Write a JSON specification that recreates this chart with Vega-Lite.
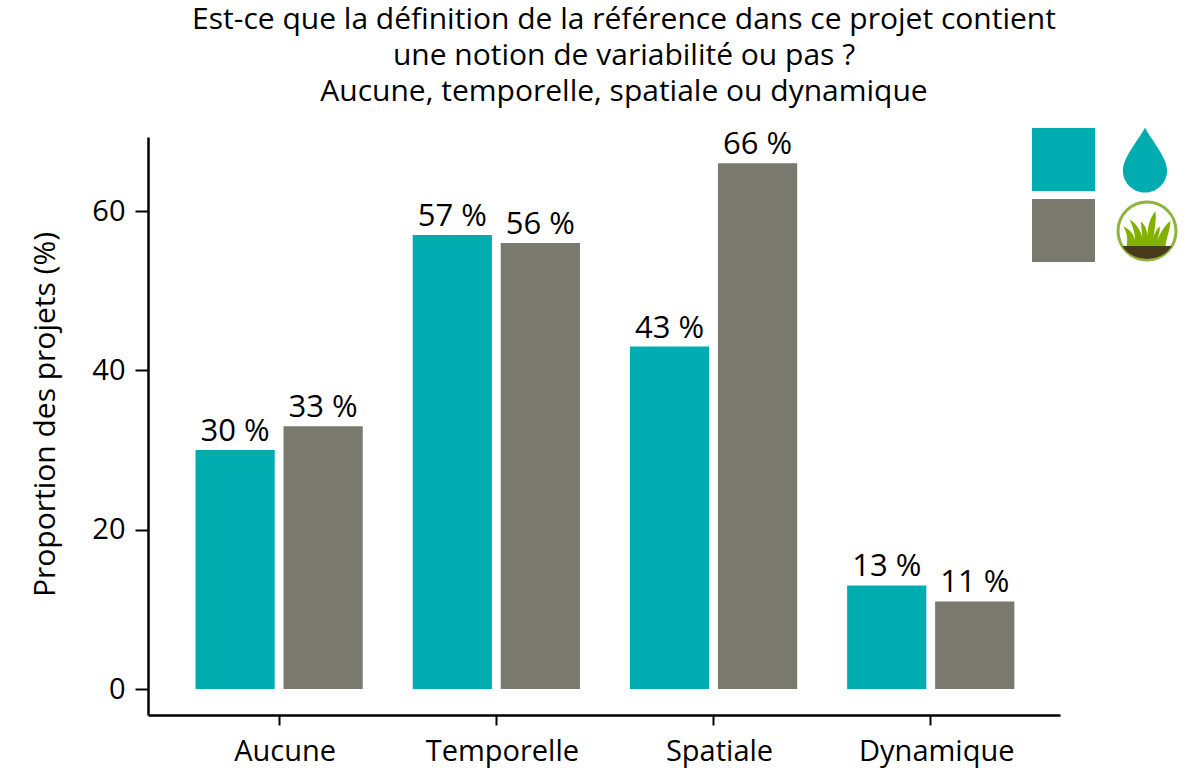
{
  "$schema": "https://vega.github.io/schema/vega-lite/v6.json",
  "width": 912,
  "height": 578,
  "autosize": {"type": "none"},
  "padding": {"left": 148, "top": 137, "right": 127, "bottom": 55},
  "background": "white",
  "config": {
    "font": "Open Sans",
    "view": {"stroke": null}
  },
  "title": {
    "text": [
      "Est-ce que la définition de la référence dans ce projet contient",
      "une notion de variabilité ou pas ?",
      "Aucune, temporelle, spatiale ou dynamique"
    ],
    "anchor": "middle",
    "frame": "group",
    "dx": 20,
    "offset": 21,
    "fontSize": 30,
    "lineHeight": 36,
    "fontWeight": "normal",
    "color": "#000000",
    "font": "Open Sans"
  },
  "resolve": {"scale": {"x": "independent"}},
  "layer": [
    {
      "data": {"name": "projets", "values": [
        {"variabilite": "Aucune", "milieu": "Eau", "proportion": 30, "etiquette": "30 %"},
        {"variabilite": "Aucune", "milieu": "Sol", "proportion": 33, "etiquette": "33 %"},
        {"variabilite": "Temporelle", "milieu": "Eau", "proportion": 57, "etiquette": "57 %"},
        {"variabilite": "Temporelle", "milieu": "Sol", "proportion": 56, "etiquette": "56 %"},
        {"variabilite": "Spatiale", "milieu": "Eau", "proportion": 43, "etiquette": "43 %"},
        {"variabilite": "Spatiale", "milieu": "Sol", "proportion": 66, "etiquette": "66 %"},
        {"variabilite": "Dynamique", "milieu": "Eau", "proportion": 13, "etiquette": "13 %"},
        {"variabilite": "Dynamique", "milieu": "Sol", "proportion": 11, "etiquette": "11 %"}
      ]},
      "encoding": {
        "x": {
          "field": "variabilite",
          "type": "nominal",
          "sort": ["Aucune", "Temporelle", "Spatiale", "Dynamique"],
          "title": null,
          "scale": {"paddingInner": 0.23, "paddingOuter": 0.2144, "align": 0.51},
          "axis": {
            "labelAngle": 0,
            "labelFontSize": 29,
            "labelColor": "#000000",
            "labelPadding": 12,
            "labelOffset": 6,
            "tickSize": 10,
            "tickWidth": 2,
            "tickColor": "#000000",
            "domainWidth": 2.5,
            "domainColor": "#000000",
            "grid": false
          }
        },
        "xOffset": {
          "field": "milieu",
          "type": "nominal",
          "scale": {"paddingInner": 0.1}
        },
        "y": {
          "field": "proportion",
          "type": "quantitative",
          "title": "Proportion des projets (%)",
          "scale": {"domain": [-3.26, 69.3], "nice": false},
          "axis": {
            "values": [0, 20, 40, 60],
            "labelFontSize": 29,
            "labelColor": "#000000",
            "labelPadding": 10,
            "titleFontSize": 30,
            "titleFontWeight": "normal",
            "titleColor": "#000000",
            "titlePadding": 31,
            "titleY": 277,
            "tickSize": 13,
            "tickWidth": 2,
            "tickColor": "#000000",
            "domainWidth": 2.5,
            "domainColor": "#000000",
            "grid": false
          }
        }
      },
      "layer": [
        {
          "mark": {"type": "bar", "y2": {"expr": "scale('y', 0) + 1"}},
          "encoding": {
            "color": {
              "field": "milieu",
              "type": "nominal",
              "scale": {"domain": ["Eau", "Sol"], "range": ["#00acaf", "#79796e"]},
              "legend": {
                "title": null,
                "orient": "none",
                "legendX": 884,
                "legendY": -9,
                "padding": 0,
                "symbolType": "square",
                "symbolSize": 3969,
                "symbolStrokeWidth": 0,
                "rowPadding": 8,
                "labelExpr": "''",
                "labelFontSize": 1
              }
            }
          }
        },
        {
          "mark": {"type": "text", "baseline": "bottom", "dy": -2, "fontSize": 31, "color": "#000000"},
          "encoding": {"text": {"field": "etiquette"}}
        }
      ]
    },
    {
      "data": {"values": [{"icone": "pictogrammes"}]},
      "encoding": {
        "x": {"datum": 1.0932, "type": "quantitative", "scale": {"domain": [0, 1]}, "axis": null},
        "y": {"datum": 50.3, "type": "quantitative"}
      },
      "layer": [
        {
          "mark": {
            "type": "point",
            "filled": true,
            "opacity": 1,
            "clip": false,
            "color": "#00acaf",
            "size": 4225,
            "shape": "M0,-1 C0.1,-0.75 0.68,-0.1 0.68,0.32 C0.68,0.7 0.37,1 0,1 C-0.37,1 -0.68,0.7 -0.68,0.32 C-0.68,-0.1 -0.1,-0.75 0,-1 Z"
          },
          "encoding": {"y": {"datum": 66.4, "type": "quantitative"}}
        },
        {
          "mark": {"type": "point", "filled": false, "opacity": 1, "color": "#8db43e", "strokeWidth": 3, "size": 3364, "shape": "circle"},
          "encoding": {"x": {"datum": 1.0954, "type": "quantitative", "scale": {"domain": [0, 1]}, "axis": null}, "y": {"datum": 57.5, "type": "quantitative"}}
        },
        {
          "mark": {
            "type": "point",
            "filled": true,
            "opacity": 1,
            "color": "#4a3a1c",
            "size": 3600,
            "shape": "M-0.82,0.5 L0.82,0.5 C0.65,0.8 0.3,0.93 0,0.93 C-0.3,0.93 -0.65,0.8 -0.82,0.5 Z"
          },
          "encoding": {"x": {"datum": 1.0954, "type": "quantitative", "scale": {"domain": [0, 1]}, "axis": null}, "y": {"datum": 57.5, "type": "quantitative"}}
        },
        {
          "mark": {
            "type": "point",
            "filled": true,
            "opacity": 1,
            "color": "#84b000",
            "size": 3600,
            "shape": "M-0.68,0.5 C-0.62,0.2 -0.7,0 -0.8,-0.16 C-0.55,-0.05 -0.45,0.1 -0.4,0.3 C-0.4,0.05 -0.5,-0.2 -0.58,-0.38 C-0.35,-0.25 -0.2,0 -0.15,0.25 C-0.17,0.05 -0.2,-0.15 -0.2,-0.32 C-0.05,-0.2 0,0 0.02,0.15 C0.02,-0.15 0.1,-0.45 0.28,-0.66 C0.32,-0.4 0.25,-0.05 0.22,0.2 C0.28,0 0.35,-0.1 0.42,-0.15 C0.45,-0.05 0.38,0.15 0.35,0.3 C0.45,0.05 0.6,-0.2 0.78,-0.33 C0.78,-0.05 0.65,0.2 0.62,0.5 Z"
          },
          "encoding": {"x": {"datum": 1.0954, "type": "quantitative", "scale": {"domain": [0, 1]}, "axis": null}, "y": {"datum": 57.5, "type": "quantitative"}}
        }
      ]
    }
  ]
}
